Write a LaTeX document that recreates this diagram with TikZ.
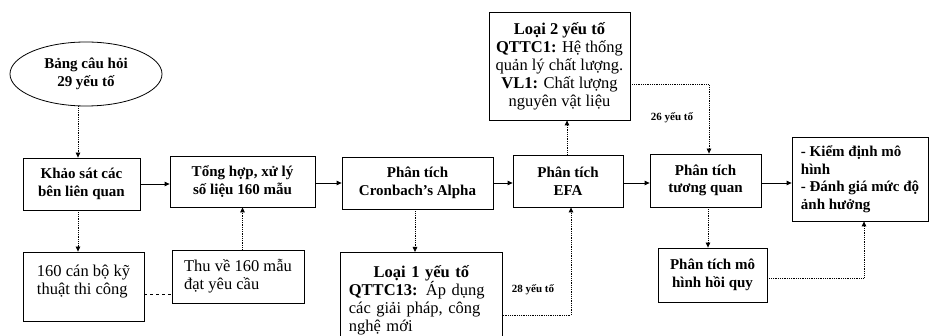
\documentclass[tikz,border=0pt]{standalone}
\usepackage{fontspec}
\setmainfont{Liberation Serif}
\usetikzlibrary{positioning,arrows.meta,shapes.geometric,calc}

\begin{document}
\begin{tikzpicture}[
  x=1pt,y=-1pt,
  font=\fontsize{16.5}{18}\selectfont,
  stepbox/.style={draw,line width=0.8pt,inner sep=2pt,align=center,
               font=\fontsize{15}{17.5}\selectfont\bfseries},
  txtbox/.style={draw,line width=0.8pt,inner sep=3pt,align=left},
  flow/.style={-{Triangle[length=5pt,width=4.5pt]},line width=0.8pt},
  dotflow/.style={-{Triangle[length=5pt,width=4.5pt]},densely dotted,line width=0.8pt},
  count/.style={font=\fontsize{11}{13}\selectfont\bfseries},
]
  \useasboundingbox (0,0) rectangle (929,336);
  % main row
  \node[stepbox,ellipse,minimum width=152pt,minimum height=64pt] (intro) at (86,74) {Bảng câu hỏi\\29 yếu tố};
  \node[stepbox,minimum width=117pt,minimum height=52pt] (survey) at (81.5,184) {Khảo sát các\\bên liên quan};
  \node[stepbox,minimum width=145pt,minimum height=51pt] (synth) at (242.5,181.5) {Tổng hợp, xử lý\\số liệu 160 mẫu};
  \node[stepbox,minimum width=151pt,minimum height=52pt] (alpha) at (417.5,183) {Phân tích\\Cronbach’s Alpha};
  \node[stepbox,minimum width=110pt,minimum height=52pt] (efa) at (568,181) {Phân tích\\EFA};
  \node[stepbox,minimum width=111pt,minimum height=53pt] (corr) at (705.5,180.5) {Phân tích\\tương quan};
  \node[txtbox,font=\fontsize{15}{17.5}\selectfont\bfseries,minimum width=136pt,minimum height=84pt] (test) at (860,179) {- Kiểm định mô\\hình\\- Đánh giá mức độ\\ảnh hưởng};
  % side boxes
  \node[txtbox,minimum width=121pt,minimum height=69pt] (staff) at (83.5,286.5) {160 cán bộ kỹ\\thuật thi công\\[-4pt]};
  \node[txtbox,minimum width=132pt,minimum height=53pt] (collect) at (238,276.5) {Thu về 160 mẫu\\đạt yêu cầu};
  \node[draw,line width=0.8pt,inner sep=2pt,align=center,
        minimum width=141pt,minimum height=108pt] (type2) at (559.5,66)
        {\textbf{Loại 2 yếu tố}\\\textbf{QTTC1:} Hệ thống\\quản lý chất lượng.\\\textbf{VL1:} Chất lượng\\nguyên vật liệu};
  \node[draw,line width=0.8pt,inner xsep=8.5pt,inner ysep=4pt,align=left,text width=145pt,
        minimum height=95pt,anchor=north west] (type1) at (340,252)
        {\makebox[145pt]{\textbf{Loại 1 yếu tố}}\\\textbf{QTTC13:} Áp dụng\\các giải pháp, công\\nghệ mới};
  \node[stepbox,minimum width=109pt,minimum height=54pt] (regr) at (712.5,275) {Phân tích mô\\hình hồi quy};
  % solid flow
  \draw[flow] (survey.east) -- (survey.east -| synth.west);
  \draw[flow] ([yshift=-1.5pt]synth.east) -- ([yshift=-1.5pt]synth.east -| alpha.west);
  \draw[flow] (alpha.east) -- (alpha.east -| efa.west);
  \draw[flow] ([yshift=-2pt]efa.east) -- ([yshift=-2pt]efa.east -| corr.west);
  \draw[flow] ([yshift=-2.5pt]corr.east) -- ([yshift=-2.5pt]corr.east -| test.west);
  % dotted flow
  \draw[dotflow] ([xshift=-8pt]intro.south) -- ([xshift=-8pt]intro.south |- survey.north);
  \draw[dotflow] ([xshift=-3.5pt]survey.south) -- ([xshift=-3.5pt]survey.south |- staff.north);
  \draw[dashed,line width=0.8pt] ([yshift=-8pt]staff.east) -- ([yshift=-8pt]staff.east -| collect.west);
  \draw[dotflow] (collect.north -| synth.south) -- (synth.south);
  \draw[dotflow] ([xshift=-2.5pt]alpha.south) -- ([xshift=-2.5pt]alpha.south |- type1.north);
  \draw[dotflow] ($(type1.north east)+(0,63)$) -| ([xshift=3pt]efa.south);
  \draw[dotflow] ([xshift=-1pt]efa.north) -- ([xshift=-1pt]efa.north |- type2.south);
  \draw[dotflow] ($(type2.north east)+(0,73)$) -| ([xshift=3.5pt]corr.north);
  \draw[dotflow] ([xshift=2.5pt]corr.south) -- ([xshift=2.5pt]corr.south |- regr.north);
  \draw[dotflow] ([yshift=-3pt]regr.east) -| ([xshift=4pt]test.south);
  \node[count] (n28) at (533,290) {28 yếu tố};
  \node[count] (n26) at (672,118) {26 yếu tố};
\end{tikzpicture}
\end{document}
